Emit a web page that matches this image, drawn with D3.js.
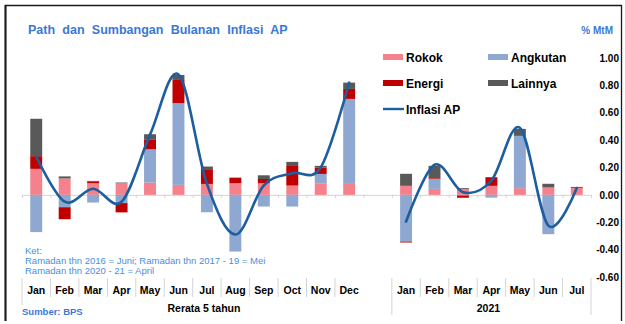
<!DOCTYPE html>
<html>
<head>
<meta charset="utf-8">
<script src="https://cdn.jsdelivr.net/npm/d3@7/dist/d3.min.js"></script>
<style>
  html, body { margin: 0; padding: 0; background: #fff; }
  svg { display: block; font-family: "Liberation Sans", Arial, sans-serif; }
</style>
</head>
<body>
<svg id="chart" width="625" height="324"></svg>
<script>
// Month labels, grouped: 5-year average, a blank spacer, then 2021
const months5y = ["Jan","Feb","Mar","Apr","May","Jun","Jul","Aug","Sep","Oct","Nov","Dec"];
const months2021 = ["Jan","Feb","Mar","Apr","May","Jun","Jul"];
const groupLabels = ["Rerata 5 tahun", "2021"];
const categories = [...months5y, "", ...months2021];

// Monthly contributions (% MtM); null marks the spacer slot
const rokok    = [0.19, 0.12, 0.085, 0.085, 0.09, 0.073, 0.08, 0.085, 0.085, 0.068, 0.085, 0.08, null, 0.066, 0.044, 0.041, 0.066, 0.049, 0.054, 0.052];
const angkutan = [-0.272, -0.09, -0.056, -0.06, 0.243, 0.597, -0.127, -0.414, -0.085, -0.085, 0.068, 0.621, null, -0.341, 0.073, -0.005, -0.02, 0.382, -0.287, 0];
const energi   = [0.093, -0.088, 0.01, -0.068, 0.073, 0.175, 0.102, 0.041, 0.031, 0.149, 0.047, 0.073, null, -0.007, 0.005, -0.016, 0.063, 0, 0, 0.006];
const lainnya  = [0.273, 0.015, 0.007, 0.005, 0.037, 0.031, 0.025, 0, 0.027, 0.024, 0.012, 0.046, null, 0.088, 0.09, 0.008, 0, 0.051, 0.027, 0];
const inflasiAP = [0.28, -0.05, 0.045, -0.05, 0.44, 0.88, 0.08, -0.29, 0.07, 0.158, 0.2, 0.82, null, -0.195, 0.22, 0.02, 0.105, 0.49, -0.225, 0.05];

const yTicks = [-0.6, -0.4, -0.2, 0, 0.2, 0.4, 0.6, 0.8, 1.0];

const seriesNames = ["Rokok", "Angkutan", "Energi", "Lainnya"];
const seriesColors = ["#F4818B", "#8FA8D2", "#C00000", "#595959"];
const lineName = "Inflasi AP";
const lineColor = "#1D5E9E";

const svg = d3.select("#chart");

// Frame: left, top and right edges
svg.append("path")
  .attr("d", "M5.5,321 V5.5 H621.5 V321")
  .attr("fill", "none").attr("stroke", "#1a1a1a").attr("stroke-width", 1.3);
svg.append("line")
  .attr("x1", 5.5).attr("x2", 5.5).attr("y1", 5).attr("y2", 321)
  .attr("stroke", "#1a1a1a").attr("stroke-width", 2);

// Scales
const keys = categories.map((c, i) => i);
const x = d3.scaleBand().domain(keys).range([22, 591]).padding(0);
const xEdge = d3.scaleLinear().domain([0, categories.length]).range([22, 591]);
const y = d3.scaleLinear().domain([-0.6, 1.0]).range([277, 58]);
const barW = x.bandwidth() * 0.42;

// Rows for stacking
const rows = keys.filter(i => rokok[i] !== null).map(i => ({
  i,
  Rokok: rokok[i], Angkutan: angkutan[i], Energi: energi[i], Lainnya: lainnya[i]
}));
const stacked = d3.stack().keys(seriesNames).offset(d3.stackOffsetDiverging)(rows);

// Zero axis with boundary ticks
const zeroAxis = d3.axisBottom(xEdge)
  .tickValues(d3.range(0, categories.length + 1))
  .tickSize(3).tickSizeOuter(3).tickFormat("");
const gz = svg.append("g").attr("transform", `translate(0,${y(0)})`).call(zeroAxis);
gz.selectAll("path, line").attr("stroke", "#d4d4d4").attr("stroke-width", 1);

// Stacked bars
svg.append("g").selectAll("g")
  .data(stacked).join("g")
  .attr("fill", (d, k) => seriesColors[k])
  .selectAll("rect")
  .data(d => d).join("rect")
  .attr("x", d => x(d.data.i) + (x.bandwidth() - barW) / 2)
  .attr("width", barW)
  .attr("y", d => y(Math.max(d[0], d[1])))
  .attr("height", d => Math.abs(y(d[0]) - y(d[1])));

// Smoothed inflation line, broken at the spacer slot
const linePts = keys.map(i => ({ i, v: inflasiAP[i] }));
const line = d3.line()
  .defined(d => d.v !== null)
  .x(d => x(d.i) + x.bandwidth() / 2)
  .y(d => y(d.v))
  .curve(d3.curveCardinal.tension(0));
svg.append("path")
  .datum(linePts)
  .attr("d", line)
  .attr("fill", "none")
  .attr("stroke", lineColor)
  .attr("stroke-width", 2.6)
  .attr("stroke-linecap", "round");

// Right value axis
const yAxis = d3.axisRight(y).tickValues(yTicks).tickSize(0).tickFormat(d => d.toFixed(2));
const gy = svg.append("g").attr("transform", "translate(619,0)").call(yAxis);
gy.select(".domain").remove();
gy.selectAll("text")
  .attr("x", 0).attr("text-anchor", "end")
  .attr("font-family", "Liberation Sans, Arial, sans-serif")
  .attr("font-size", 10).attr("font-weight", "bold").attr("fill", "#000");

// Category axis: month labels and separators
const catAxis = svg.append("g");
catAxis.selectAll("text.month")
  .data(keys.filter(i => categories[i] !== ""))
  .join("text")
  .attr("class", "month")
  .attr("x", i => x(i) + x.bandwidth() / 2)
  .attr("y", 294)
  .attr("text-anchor", "middle")
  .attr("font-size", 10.5).attr("font-weight", "bold").attr("fill", "#000")
  .text(i => categories[i]);

const shortSeps = d3.range(1, 12).concat(d3.range(14, 20));
catAxis.selectAll("line.sep")
  .data(shortSeps).join("line")
  .attr("class", "sep")
  .attr("x1", i => xEdge(i)).attr("x2", i => xEdge(i))
  .attr("y1", 278).attr("y2", 297)
  .attr("stroke", "#d4d4d4");

const groupEdges = [0, 13, 20];
catAxis.selectAll("line.grp")
  .data(groupEdges).join("line")
  .attr("class", "grp")
  .attr("x1", i => xEdge(i)).attr("x2", i => xEdge(i))
  .attr("y1", 278).attr("y2", i => i === 0 ? 305 : 315)
  .attr("stroke", "#d4d4d4");

const groupSpans = [[0, 13], [13, 20]];
catAxis.selectAll("text.grp")
  .data(groupSpans).join("text")
  .attr("class", "grp")
  .attr("x", d => (xEdge(d[0]) + xEdge(d[1])) / 2 - 3)
  .attr("y", 312)
  .attr("text-anchor", "middle")
  .attr("font-size", 10.5).attr("font-weight", "bold").attr("fill", "#000")
  .text((d, k) => groupLabels[k]);

// Title and unit
svg.append("text")
  .attr("x", 28).attr("y", 34)
  .attr("font-size", 12.5).attr("font-weight", "bold").attr("fill", "#3A78D4")
  .attr("word-spacing", 3.8)
  .text("Path dan Sumbangan Bulanan Inflasi AP");
svg.append("text")
  .attr("x", 613).attr("y", 33.5).attr("text-anchor", "end")
  .attr("font-size", 10).attr("font-weight", "bold").attr("fill", "#3A78D4")
  .text("% MtM");

// Legend
const legendPos = [[383, 57], [488, 57], [383, 83], [488, 83]];
const lg = svg.append("g");
seriesNames.forEach((name, k) => {
  const [lx, ly] = legendPos[k];
  lg.append("rect").attr("x", lx).attr("y", ly - 3).attr("width", 20).attr("height", 6).attr("fill", seriesColors[k]);
  lg.append("text").attr("x", lx + 23).attr("y", ly + 4.5)
    .attr("font-size", 12).attr("font-weight", "bold").attr("fill", "#000").text(name);
});
lg.append("line").attr("x1", 383).attr("x2", 404).attr("y1", 109).attr("y2", 109)
  .attr("stroke", lineColor).attr("stroke-width", 2.4);
lg.append("text").attr("x", 406).attr("y", 113.5)
  .attr("font-size", 12).attr("font-weight", "bold").attr("fill", "#000").text(lineName);

// Notes
const notes = ["Ket:", "Ramadan thn 2016 = Juni; Ramadan thn 2017 - 19 = Mei", "Ramadan thn 2020 - 21 = April"];
svg.append("g").selectAll("text")
  .data(notes).join("text")
  .attr("x", 25).attr("y", (d, k) => 253.5 + k * 10.3)
  .attr("font-size", 9.5).attr("fill", "#4A8FDB")
  .text(d => d);

svg.append("text")
  .attr("x", 22).attr("y", 315)
  .attr("font-size", 9.5).attr("font-weight", "bold").attr("fill", "#3A7BD5")
  .text("Sumber: BPS");
</script>
</body>
</html>
